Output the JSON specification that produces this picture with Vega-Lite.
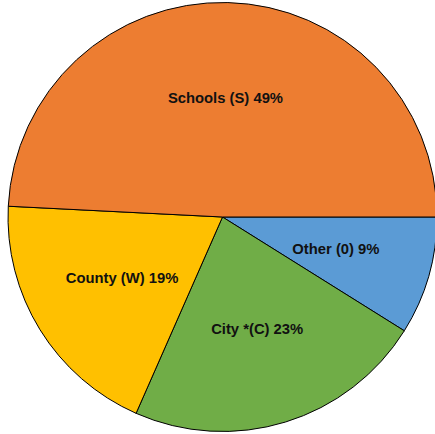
{
  "$schema": "https://vega.github.io/schema/vega-lite/v6.json",
  "width": 425,
  "height": 434,
  "padding": {"left": 10, "top": 0, "right": 0, "bottom": 0},
  "autosize": {"type": "none"},
  "background": "white",
  "config": {"view": {"stroke": null}},
  "data": {
    "values": [
      {"category": "Other (0)", "value": 8.9, "rank": 1, "label": "Other (0) 9%"},
      {"category": "City *(C)", "value": 22.7, "rank": 2, "label": "City *(C) 23%"},
      {"category": "County (W)", "value": 19.2, "rank": 3, "label": "County (W) 19%"},
      {"category": "Schools (S)", "value": 49.2, "rank": 4, "label": "Schools (S) 49%"}
    ]
  },
  "encoding": {
    "theta": {"field": "value", "type": "quantitative", "stack": true, "scale": {"range": [1.5708, 7.854]}},
    "order": {"field": "rank", "type": "quantitative"}
  },
  "layer": [
    {
      "mark": {"type": "arc", "outerRadius": 214.5, "stroke": "black", "strokeWidth": 1},
      "encoding": {
        "color": {
          "field": "category",
          "type": "nominal",
          "scale": {
            "domain": ["Other (0)", "City *(C)", "County (W)", "Schools (S)"],
            "range": ["#5B9BD5", "#70AD47", "#FFC000", "#ED7D31"]
          },
          "legend": null
        }
      }
    },
    {
      "mark": {"type": "text", "radius": 118, "font": "Liberation Sans", "fontSize": 14.8, "fontWeight": "bold", "fill": "#111111", "align": "center", "baseline": "middle"},
      "encoding": {
        "text": {"field": "label", "type": "nominal"}
      }
    }
  ]
}
